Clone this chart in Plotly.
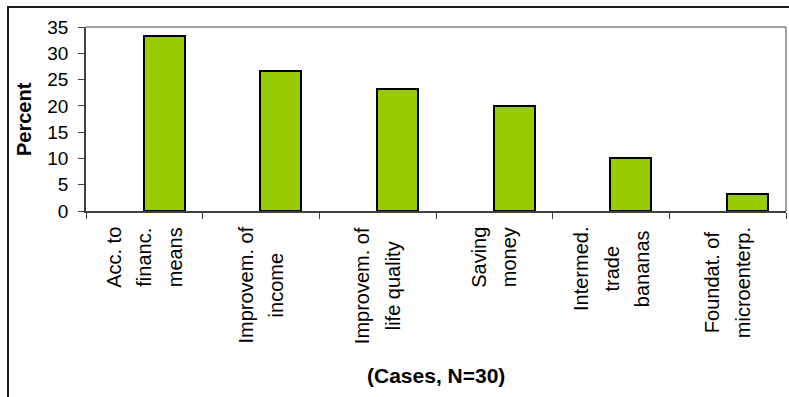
import plotly.graph_objects as go

# Reasons given for using the service (share of 30 cases)
categories = [
    "Acc. to<br>financ.<br>means",
    "Improvem. of<br>income",
    "Improvem. of<br>life quality",
    "Saving<br>money",
    "Intermed.<br>trade<br>bananas",
    "Foundat. of<br>microenterp.",
]
percent = [33.3, 26.7, 23.3, 20.0, 10.0, 3.3]
y_ticks = [0, 5, 10, 15, 20, 25, 30, 35]

FONT = "Liberation Sans, Arial, sans-serif"
W, H = 789, 397
ML, MR, MT, MB = 86, 3, 27, 186
PW, PH = W - ML - MR, H - MT - MB


def px_x(px):
    return (px - ML) / PW


def px_y(py):
    return (H - MB - py) / PH


fig = go.Figure(
    go.Bar(
        x=categories,
        y=percent,
        width=0.35,
        offset=-0.005,
        marker=dict(color="#99CC00", line=dict(color="#000000", width=2)),
        hoverinfo="x+y",
    )
)

# Category labels: rotated, centred lines, wider line spacing
annotations = []
for cat in categories:
    lines = cat.split("<br>")
    text = "<br>".join(f"<span style='font-size:20px'>{ln}</span>" for ln in lines)
    annotations.append(
        dict(
            x=cat, y=0, xref="x", yref="y",
            text=text, textangle=-90, showarrow=False,
            xanchor="center", yanchor="top", align="center",
            yshift=-14,
            font=dict(family=FONT, size=23.5, color="#000000"),
        )
    )

annotations.append(
    dict(
        x=px_x(24), y=0.5, xref="paper", yref="paper",
        text="<b>Percent</b>", textangle=-90, showarrow=False,
        xanchor="center", yanchor="middle",
        font=dict(family=FONT, size=20, color="#000000"),
    )
)
annotations.append(
    dict(
        x=0.5, y=px_y(375), xref="paper", yref="paper",
        text="<b>(Cases, N=30)</b>", showarrow=False,
        xanchor="center", yanchor="middle",
        font=dict(family=FONT, size=21, color="#000000"),
    )
)

shapes = [
    # plot frame, top and right edges
    dict(type="line", xref="paper", yref="paper", x0=0, x1=1, y0=1, y1=1,
         line=dict(color="#808080", width=1.5)),
    dict(type="line", xref="paper", yref="paper", x0=1, x1=1, y0=0, y1=1,
         line=dict(color="#808080", width=1.5)),
    # outer chart border
    dict(type="rect", xref="paper", yref="paper",
         x0=px_x(8), x1=px_x(820), y0=px_y(430), y1=px_y(7),
         line=dict(color="#1a1a1a", width=2)),
]

fig.update_layout(
    width=W, height=H,
    margin=dict(l=ML, r=MR, t=MT, b=MB),
    paper_bgcolor="#FFFFFF", plot_bgcolor="#FFFFFF",
    showlegend=False,
    bargap=0,
    annotations=annotations,
    shapes=shapes,
    xaxis=dict(
        type="category",
        showticklabels=False,
        ticks="outside", ticklen=6, tickwidth=1, tickcolor="#404040",
        tickson="boundaries",
        showline=True, linecolor="#404040", linewidth=1.5,
        showgrid=False, zeroline=False,
        range=[-0.5, len(categories) - 0.5],
    ),
    yaxis=dict(
        range=[0, 35],
        tickvals=y_ticks,
        ticks="outside", ticklen=6, tickwidth=1, tickcolor="#404040",
        ticklabelstandoff=6,
        tickfont=dict(family=FONT, size=19, color="#000000"),
        showline=True, linecolor="#404040", linewidth=1.5,
        showgrid=False, zeroline=False,
    ),
)

fig.write_html("out.html")
